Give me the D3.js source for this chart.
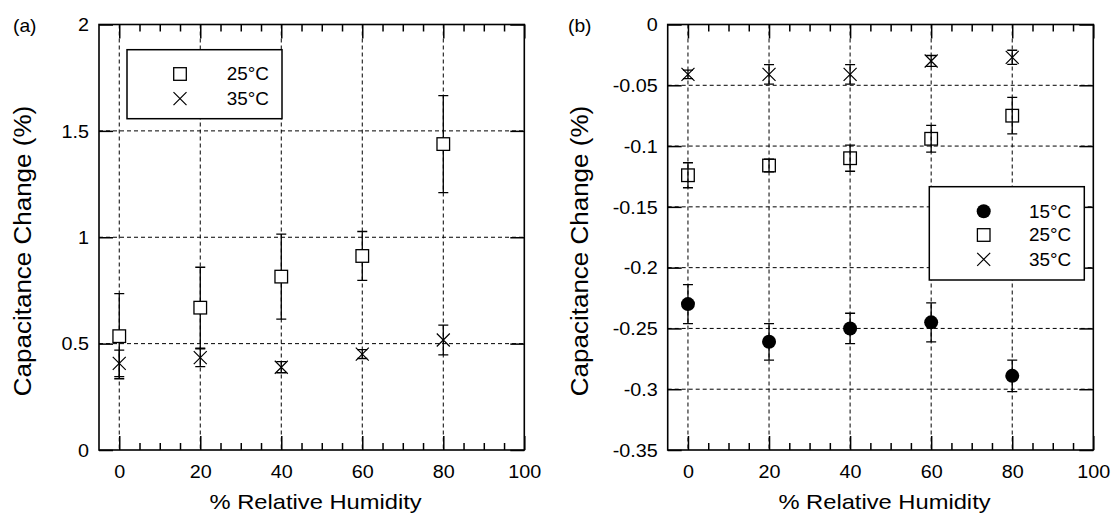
<!DOCTYPE html>
<html>
<head>
<meta charset="utf-8">
<script src="https://cdn.jsdelivr.net/npm/d3@7"></script>
<style>
  body { margin: 0; background: #fff; }
  svg { display: block; font-family: "Liberation Sans", Arial, sans-serif; }
</style>
</head>
<body>
<svg id="chart" width="1111" height="516"></svg>
<script>
// Data
const humidity = [0, 20, 40, 60, 80];
const xTicks = [0, 20, 40, 60, 80, 100];

// (a) positive change
const a25 = [0.535, 0.669, 0.815, 0.912, 1.438];
const a25Err = [0.2, 0.19, 0.2, 0.115, 0.228];
const a35 = [0.407, 0.434, 0.389, 0.451, 0.517];
const a35Err = [0.062, 0.042, 0.026, 0.021, 0.07];
const aYTicks = [0, 0.5, 1, 1.5, 2];

// (b) negative change
const b15 = [-0.230, -0.261, -0.250, -0.245, -0.289];
const b15Err = [0.016, 0.015, 0.0125, 0.016, 0.013];
const b25 = [-0.124, -0.116, -0.110, -0.094, -0.075];
const b25Err = [0.0103, 0.0052, 0.0107, 0.011, 0.015];
const b35 = [-0.041, -0.041, -0.041, -0.030, -0.027];
const b35Err = [0.0035, 0.008, 0.008, 0.0045, 0.0058];
const bYTicks = [0, -0.05, -0.1, -0.15, -0.2, -0.25, -0.3, -0.35];

const svg = d3.select('#chart');
svg.append('rect').attr('width', 1111).attr('height', 516).attr('fill', '#fff');

const SX = 1.13; // glyphs in the figure are a bit wider than Arial

function wideText(sel, x, y, size, opts = {}) {
  const t = sel.append('text')
    .attr('transform', `translate(${x},${y}) rotate(${opts.rotate || 0}) scale(${opts.sx || SX},1)`)
    .attr('font-size', size)
    .attr('text-anchor', opts.anchor || 'start')
    .attr('fill', '#000');
  return t;
}

function drawMarker(g, type, x, y, fill) {
  if (type === 'square') {
    g.append('rect').attr('x', x - 6.3).attr('y', y - 6.3)
      .attr('width', 12.6).attr('height', 12.6)
      .attr('fill', fill).attr('stroke', '#000').attr('stroke-width', 1.3);
  } else if (type === 'cross') {
    g.append('path')
      .attr('d', `M${x - 6.5},${y - 6.5}L${x + 6.5},${y + 6.5}M${x - 6.5},${y + 6.5}L${x + 6.5},${y - 6.5}`)
      .attr('stroke', '#000').attr('stroke-width', 1.2).attr('fill', 'none');
  } else {
    g.append('circle').attr('cx', x).attr('cy', y).attr('r', 7).attr('fill', '#000');
  }
}

function panel(cfg) {
  const g = svg.append('g');
  const x = d3.scaleLinear().domain([-5, 100]).range(cfg.xRange);
  const y = d3.scaleLinear().domain(cfg.yDomain).range([450, 24.5]);
  const [x0, x1] = cfg.xRange;
  const [y1, y0] = y.range();

  // dashed grid
  const grid = g.append('g').attr('stroke', '#000').attr('stroke-width', 1)
    .attr('stroke-dasharray', '4,3');
  grid.selectAll('.gx').data(xTicks.filter(d => d < 100)).enter().append('line')
    .attr('x1', d => x(d)).attr('x2', d => x(d)).attr('y1', y0).attr('y2', y1);
  grid.selectAll('.gy').data(cfg.yTicks.slice(1, -1)).enter().append('line')
    .attr('y1', d => y(d)).attr('y2', d => y(d)).attr('x1', x0).attr('x2', x1);

  // axes with inward ticks
  const minor = d3.range(0, 100, 5).filter(d => d % 20);
  const bottom = g.append('g').attr('transform', `translate(0,${y1})`)
    .call(d3.axisBottom(x).tickValues(xTicks).tickSize(-14).tickPadding(16));
  g.append('g').attr('transform', `translate(0,${y1})`)
    .call(d3.axisBottom(x).tickValues(minor).tickSize(-7).tickFormat(''));
  g.append('g').attr('transform', `translate(0,${y0})`)
    .call(d3.axisTop(x).tickValues(xTicks).tickSize(-14).tickFormat(''));
  g.append('g').attr('transform', `translate(0,${y0})`)
    .call(d3.axisTop(x).tickValues(minor).tickSize(-7).tickFormat(''));
  const left = g.append('g').attr('transform', `translate(${x0},0)`)
    .call(d3.axisLeft(y).tickValues(cfg.yTicks).tickSize(-14).tickPadding(10).tickFormat(d => String(d)));
  g.append('g').attr('transform', `translate(${x1},0)`)
    .call(d3.axisRight(y).tickValues(cfg.yTicks).tickSize(-14).tickFormat(''));

  g.selectAll('.domain').remove();
  g.selectAll('.tick line').attr('stroke', '#000').attr('stroke-width', 1.5);
  [bottom, left].forEach(ax => {
    ax.selectAll('text').each(function() {
      const t = d3.select(this);
      const tx = +t.attr('x') || 0, ty = +t.attr('y') || 0;
      t.attr('x', null).attr('y', null)
        .attr('transform', `translate(${tx},${ty}) scale(${SX},1)`);
    });
    ax.selectAll('text').attr('font-size', 17.5).attr('fill', '#000')
      .attr('font-family', '"Liberation Sans", Arial, sans-serif');
  });
  left.selectAll('text').attr('dy', '0.36em');

  // frame
  g.append('rect').attr('x', x0).attr('y', y0).attr('width', x1 - x0).attr('height', y1 - y0)
    .attr('fill', 'none').attr('stroke', '#000').attr('stroke-width', 1.6);

  // error bars and markers
  cfg.series.forEach(s => {
    const sg = g.append('g');
    humidity.forEach((h, i) => {
      const cx = x(h), top = y(s.values[i] + s.errs[i]), bot = y(s.values[i] - s.errs[i]);
      sg.append('path')
        .attr('d', `M${cx},${top}L${cx},${bot}M${cx - 5},${top}L${cx + 5},${top}M${cx - 5},${bot}L${cx + 5},${bot}`)
        .attr('stroke', '#000').attr('stroke-width', 1.3).attr('fill', 'none');
      drawMarker(sg, s.marker, cx, y(s.values[i]), cfg.squareFill);
    });
  });

  // legend
  const L = cfg.legend;
  const lg = g.append('g');
  lg.append('rect').attr('x', L.x0).attr('y', L.y0).attr('width', L.x1 - L.x0).attr('height', L.y1 - L.y0)
    .attr('fill', '#fff').attr('stroke', '#000').attr('stroke-width', 1.5);
  L.rows.forEach((r, i) => {
    drawMarker(lg, r.marker, L.mx, L.ry[i], '#fff');
    wideText(lg, L.tx, L.ry[i] + 6.3, 17.5, { sx: 1.08 }).text(r.label);
  });

  // titles
  wideText(g, cfg.tagX, 32, 17.5, { sx: 1.1 }).text(cfg.tag);
  wideText(g, cfg.yTitleX, 251, 23, { rotate: -90, anchor: 'middle' }).text('Capacitance Change (%)');
  wideText(g, (x0 + x1) / 2 + 4, 509, 21, { anchor: 'middle' }).text('% Relative Humidity');
}

panel({
  tag: '(a)', tagX: 13, yTitleX: 31,
  xRange: [99, 524.3], yDomain: [0, 2], yTicks: aYTicks, squareFill: '#fff',
  series: [
    { values: a25, errs: a25Err, marker: 'square' },
    { values: a35, errs: a35Err, marker: 'cross' }
  ],
  legend: {
    x0: 127, y0: 49.7, x1: 282, y1: 118.7, mx: 180, tx: 226.7, ry: [74, 98.7],
    rows: [{ marker: 'square', label: '25°C' }, { marker: 'cross', label: '35°C' }]
  }
});

panel({
  tag: '(b)', tagX: 568, yTitleX: 588,
  xRange: [667.7, 1093.3], yDomain: [-0.35, 0], yTicks: bYTicks, squareFill: 'none',
  series: [
    { values: b15, errs: b15Err, marker: 'circle' },
    { values: b25, errs: b25Err, marker: 'square' },
    { values: b35, errs: b35Err, marker: 'cross' }
  ],
  legend: {
    x0: 929.3, y0: 186.7, x1: 1084.3, y1: 280, mx: 983.7, tx: 1029, ry: [211.3, 235, 259.3],
    rows: [{ marker: 'circle', label: '15°C' }, { marker: 'square', label: '25°C' }, { marker: 'cross', label: '35°C' }]
  }
});
</script>
</body>
</html>
